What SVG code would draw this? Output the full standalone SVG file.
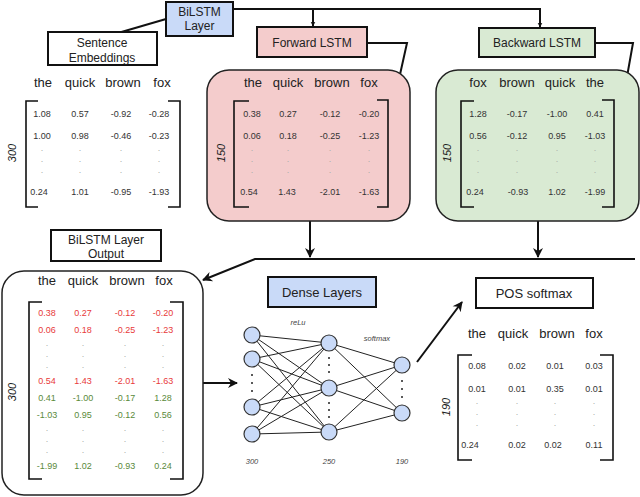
<svg xmlns="http://www.w3.org/2000/svg" width="640" height="497" viewBox="0 0 640 497">
<defs>
<marker id="ah" viewBox="0 0 10 10" refX="9" refY="5" markerWidth="7" markerHeight="7" orient="auto-start-reverse" markerUnits="userSpaceOnUse">
<path d="M0,0 L10,5 L0,10 L3,5 z" fill="#111"/>
</marker>
<marker id="ahs" viewBox="0 0 10 10" refX="9" refY="5" markerWidth="5" markerHeight="6" orient="auto" markerUnits="userSpaceOnUse">
<path d="M0,0 L10,5 L0,10 L3,5 z" fill="#111"/>
</marker>
<marker id="ahb" viewBox="0 0 10 10" refX="9" refY="5" markerWidth="12" markerHeight="10" orient="auto" markerUnits="userSpaceOnUse">
<path d="M0,0 L10,5 L0,10 L3,5 z" fill="#111"/>
</marker>
</defs>
<style>
text{font-family:"Liberation Sans",Arial,sans-serif;fill:#222}
.lbl{font-size:12px;text-anchor:middle}
.hd{font-size:13px;text-anchor:middle}
.v{font-size:9px;text-anchor:middle;fill:#333}
.dot{font-size:9px;text-anchor:middle;fill:#aaa}
.red{fill:#e83a3a}
.grn{fill:#5a8a3a}
.dim{font-size:11px;font-style:italic;text-anchor:middle}
.sm{font-size:7.5px;font-style:italic;text-anchor:middle;fill:#444}
.box{stroke:#111;stroke-width:2}
.br{fill:none;stroke:#111;stroke-width:1.6}
.con{fill:none;stroke:#111;stroke-width:2}
.edge{stroke:#222;stroke-width:1}
.nd{fill:#c9daf8;stroke:#333;stroke-width:1.2}
.nd2{font-size:9px;text-anchor:middle;fill:#222}
</style>
<rect width="640" height="497" fill="#fff"/>

<g id="connectors">
<line x1="166" y1="19" x2="118" y2="33" class="con"/>
<path d="M233,9 H540 V27" class="con" stroke-width="1.5" marker-end="url(#ahs)"/>
<path d="M313,9 V26" class="con" stroke-width="1.5" marker-end="url(#ahs)"/>
<path d="M367,43 H407 L397,88" class="con" marker-end="url(#ahb)"/>
<path d="M595,43 H633 L625,88" class="con" marker-end="url(#ahb)"/>
<path d="M310,207 V257" class="con" marker-end="url(#ahb)"/>
<path d="M538,207 V257" class="con" marker-end="url(#ahb)"/>
<path d="M635,259 H255 L203,280" class="con" marker-end="url(#ahb)"/>
<path d="M203,383 H237" class="con" marker-end="url(#ahb)"/>
<path d="M417,362 L462,302" class="con" marker-end="url(#ahb)"/>
</g>

<g id="bilstm-layer">
<rect x="166" y="2" width="67" height="34" fill="#c9daf8" class="box"/>
<text x="199.5" y="16" class="lbl">BiLSTM</text>
<text x="199.5" y="30" class="lbl">Layer</text>
</g>

<g id="sentence-embeddings">
<rect x="48" y="32" width="109" height="33" fill="#fff" class="box"/>
<text x="102" y="47" class="lbl">Sentence</text>
<text x="102" y="62" class="lbl">Embeddings</text>
<text x="43" y="87" class="hd">the</text>
<text x="80" y="87" class="hd">quick</text>
<text x="123" y="87" class="hd">brown</text>
<text x="162" y="87" class="hd">fox</text>
<path d="M38,101 H26 V207 H38" class="br"/>
<path d="M168,101 H180 V207 H168" class="br"/>
<text transform="translate(16,153) rotate(-90)" class="dim">300</text>
<text x="42" y="117" class="v">1.08</text><text x="80" y="117" class="v">0.57</text><text x="121" y="117" class="v">-0.92</text><text x="159" y="117" class="v">-0.28</text>
<text x="42" y="139" class="v">1.00</text><text x="80" y="139" class="v">0.98</text><text x="121" y="139" class="v">-0.46</text><text x="159" y="139" class="v">-0.23</text>
<g class="dot">
<text x="42" y="151" class="dot">.</text><text x="80" y="151" class="dot">.</text><text x="121" y="151" class="dot">.</text><text x="159" y="151" class="dot">.</text>
<text x="42" y="162" class="dot">.</text><text x="80" y="162" class="dot">.</text><text x="121" y="162" class="dot">.</text><text x="159" y="162" class="dot">.</text>
<text x="42" y="173" class="dot">.</text><text x="80" y="173" class="dot">.</text><text x="121" y="173" class="dot">.</text><text x="159" y="173" class="dot">.</text>
</g>
<text x="39" y="195" class="v">0.24</text><text x="80" y="195" class="v">1.01</text><text x="121" y="195" class="v">-0.95</text><text x="159" y="195" class="v">-1.93</text>
</g>

<g id="forward-lstm">
<rect x="257" y="27" width="110" height="30" fill="#f4cccc" class="box"/>
<text x="312" y="47" class="lbl">Forward LSTM</text>
</g>

<g id="forward-matrix">
<rect x="207" y="70" width="203" height="151" rx="22" fill="#f4cccc" stroke="#222" stroke-width="1.5"/>
<text x="253" y="87" class="hd">the</text>
<text x="288" y="87" class="hd">quick</text>
<text x="332" y="87" class="hd">brown</text>
<text x="369" y="87" class="hd">fox</text>
<path d="M249,101 H234 V207 H249" class="br"/>
<path d="M377,100 H388 V207 H377" class="br"/>
<text transform="translate(225,153) rotate(-90)" class="dim">150</text>
<text x="252" y="117" class="v">0.38</text><text x="288" y="117" class="v">0.27</text><text x="330" y="117" class="v">-0.12</text><text x="369" y="117" class="v">-0.20</text>
<text x="252" y="139" class="v">0.06</text><text x="288" y="139" class="v">0.18</text><text x="330" y="139" class="v">-0.25</text><text x="369" y="139" class="v">-1.23</text>
<text x="252" y="151" class="dot">.</text><text x="288" y="151" class="dot">.</text><text x="330" y="151" class="dot">.</text><text x="369" y="151" class="dot">.</text>
<text x="252" y="162" class="dot">.</text><text x="288" y="162" class="dot">.</text><text x="330" y="162" class="dot">.</text><text x="369" y="162" class="dot">.</text>
<text x="252" y="173" class="dot">.</text><text x="288" y="173" class="dot">.</text><text x="330" y="173" class="dot">.</text><text x="369" y="173" class="dot">.</text>
<text x="249" y="195" class="v">0.54</text><text x="287" y="195" class="v">1.43</text><text x="330" y="195" class="v">-2.01</text><text x="369" y="195" class="v">-1.63</text>
</g>

<g id="backward-lstm">
<rect x="479" y="28" width="116" height="29" fill="#d9ead3" class="box"/>
<text x="537" y="47" class="lbl">Backward LSTM</text>
</g>

<g id="backward-matrix">
<rect x="436" y="70" width="203" height="151" rx="22" fill="#d9ead3" stroke="#222" stroke-width="1.5"/>
<text x="478" y="87" class="hd">fox</text>
<text x="517" y="87" class="hd">brown</text>
<text x="560" y="87" class="hd">quick</text>
<text x="595" y="87" class="hd">the</text>
<path d="M474,101 H461 V207 H474" class="br"/>
<path d="M602,100 H614 V207 H602" class="br"/>
<text transform="translate(451,153) rotate(-90)" class="dim">150</text>
<text x="478" y="117" class="v">1.28</text><text x="517" y="117" class="v">-0.17</text><text x="557" y="117" class="v">-1.00</text><text x="595" y="117" class="v">0.41</text>
<text x="478" y="139" class="v">0.56</text><text x="517" y="139" class="v">-0.12</text><text x="557" y="139" class="v">0.95</text><text x="595" y="139" class="v">-1.03</text>
<text x="478" y="151" class="dot">.</text><text x="517" y="151" class="dot">.</text><text x="557" y="151" class="dot">.</text><text x="595" y="151" class="dot">.</text>
<text x="478" y="162" class="dot">.</text><text x="517" y="162" class="dot">.</text><text x="557" y="162" class="dot">.</text><text x="595" y="162" class="dot">.</text>
<text x="478" y="173" class="dot">.</text><text x="517" y="173" class="dot">.</text><text x="557" y="173" class="dot">.</text><text x="595" y="173" class="dot">.</text>
<text x="475" y="195" class="v">0.24</text><text x="518" y="195" class="v">-0.93</text><text x="557" y="195" class="v">1.02</text><text x="595" y="195" class="v">-1.99</text>
</g>

<g id="bilstm-output-label">
<rect x="51" y="230" width="110" height="31" fill="#fff" class="box"/>
<text x="106" y="244" class="lbl">BiLSTM Layer</text>
<text x="106" y="258" class="lbl">Output</text>
</g>

<g id="bilstm-output">
<rect x="2" y="271" width="201" height="224" rx="22" fill="#fff" stroke="#222" stroke-width="1.5"/>
<text x="47" y="285" class="hd">the</text>
<text x="83" y="285" class="hd">quick</text>
<text x="127" y="285" class="hd">brown</text>
<text x="164" y="285" class="hd">fox</text>
<path d="M42,302 H29 V479 H42" class="br"/>
<path d="M170,302 H183 V479 H170" class="br"/>
<text transform="translate(16,392) rotate(-90)" class="dim">300</text>
<g>
<text x="47" y="316" class="v red">0.38</text><text x="83" y="316" class="v red">0.27</text><text x="125" y="316" class="v red">-0.12</text><text x="163" y="316" class="v red">-0.20</text>
<text x="47" y="333" class="v red">0.06</text><text x="83" y="333" class="v red">0.18</text><text x="125" y="333" class="v red">-0.25</text><text x="163" y="333" class="v red">-1.23</text>
<text x="47" y="346" class="dot">.</text><text x="83" y="346" class="dot">.</text><text x="125" y="346" class="dot">.</text><text x="163" y="346" class="dot">.</text>
<text x="47" y="357" class="dot">.</text><text x="83" y="357" class="dot">.</text><text x="125" y="357" class="dot">.</text><text x="163" y="357" class="dot">.</text>
<text x="47" y="368" class="dot">.</text><text x="83" y="368" class="dot">.</text><text x="125" y="368" class="dot">.</text><text x="163" y="368" class="dot">.</text>
<text x="47" y="384" class="v red">0.54</text><text x="83" y="384" class="v red">1.43</text><text x="125" y="384" class="v red">-2.01</text><text x="163" y="384" class="v red">-1.63</text>
<text x="47" y="401" class="v grn">0.41</text><text x="83" y="401" class="v grn">-1.00</text><text x="125" y="401" class="v grn">-0.17</text><text x="163" y="401" class="v grn">1.28</text>
<text x="47" y="418" class="v grn">-1.03</text><text x="83" y="418" class="v grn">0.95</text><text x="125" y="418" class="v grn">-0.12</text><text x="163" y="418" class="v grn">0.56</text>
<text x="47" y="431" class="dot">.</text><text x="83" y="431" class="dot">.</text><text x="125" y="431" class="dot">.</text><text x="163" y="431" class="dot">.</text>
<text x="47" y="442" class="dot">.</text><text x="83" y="442" class="dot">.</text><text x="125" y="442" class="dot">.</text><text x="163" y="442" class="dot">.</text>
<text x="47" y="453" class="dot">.</text><text x="83" y="453" class="dot">.</text><text x="125" y="453" class="dot">.</text><text x="163" y="453" class="dot">.</text>
<text x="47" y="469" class="v grn">-1.99</text><text x="83" y="469" class="v grn">1.02</text><text x="125" y="469" class="v grn">-0.93</text><text x="163" y="469" class="v grn">0.24</text>
</g>
</g>

<g id="dense-layers">
<rect x="268" y="277" width="108" height="30" fill="#c9daf8" class="box"/>
<text x="322" y="297" class="hd">Dense Layers</text>
<g class="edge">
<line x1="252" y1="335" x2="329" y2="343"/><line x1="252" y1="335" x2="329" y2="388"/><line x1="252" y1="335" x2="329" y2="432"/>
<line x1="252" y1="359" x2="329" y2="343"/><line x1="252" y1="359" x2="329" y2="388"/><line x1="252" y1="359" x2="329" y2="432"/>
<line x1="252" y1="407" x2="329" y2="343"/><line x1="252" y1="407" x2="329" y2="388"/><line x1="252" y1="407" x2="329" y2="432"/>
<line x1="252" y1="434" x2="329" y2="343"/><line x1="252" y1="434" x2="329" y2="388"/><line x1="252" y1="434" x2="329" y2="432"/>
<line x1="329" y1="343" x2="402" y2="365"/><line x1="329" y1="343" x2="402" y2="413"/>
<line x1="329" y1="388" x2="402" y2="365"/><line x1="329" y1="388" x2="402" y2="413"/>
<line x1="329" y1="432" x2="402" y2="365"/><line x1="329" y1="432" x2="402" y2="413"/>
</g>
<circle cx="252" cy="335" r="8" class="nd"/><circle cx="252" cy="359" r="8" class="nd"/>
<circle cx="252" cy="407" r="8" class="nd"/><circle cx="252" cy="434" r="8" class="nd"/>
<circle cx="329" cy="343" r="8" class="nd"/><circle cx="329" cy="388" r="8" class="nd"/><circle cx="329" cy="432" r="8" class="nd"/>
<circle cx="402" cy="365" r="8" class="nd"/><circle cx="402" cy="413" r="8" class="nd"/>
<g fill="#222">
<circle cx="252" cy="375" r="1"/><circle cx="252" cy="383" r="1"/><circle cx="252" cy="391" r="1"/>
<circle cx="329" cy="358" r="1"/><circle cx="329" cy="365" r="1"/><circle cx="329" cy="372" r="1"/>
<circle cx="329" cy="403" r="1"/><circle cx="329" cy="410" r="1"/><circle cx="329" cy="417" r="1"/>
<circle cx="402" cy="381" r="1"/><circle cx="402" cy="389" r="1"/><circle cx="402" cy="397" r="1"/>
</g>
<text x="298" y="325" class="sm">reLu</text>
<text x="377" y="341" class="sm">softmax</text>
<text x="252" y="464" class="sm">300</text>
<text x="329" y="464" class="sm">250</text>
<text x="402" y="464" class="sm">190</text>
</g>

<g id="pos-softmax">
<rect x="476" y="278" width="117" height="30" fill="#fff" class="box"/>
<text x="534" y="298" class="hd">POS softmax</text>
<text x="477" y="338" class="hd">the</text>
<text x="513" y="338" class="hd">quick</text>
<text x="557" y="338" class="hd">brown</text>
<text x="594" y="338" class="hd">fox</text>
<path d="M472,355 H458 V460 H472" class="br"/>
<path d="M600,355 H613 V460 H600" class="br"/>
<text transform="translate(450,407) rotate(-90)" class="dim">190</text>
<text x="477" y="369" class="v">0.08</text><text x="517" y="369" class="v">0.02</text><text x="555" y="369" class="v">0.01</text><text x="594" y="369" class="v">0.03</text>
<text x="477" y="392" class="v">0.01</text><text x="517" y="392" class="v">0.01</text><text x="555" y="392" class="v">0.35</text><text x="594" y="392" class="v">0.01</text>
<text x="477" y="404" class="dot">.</text><text x="517" y="404" class="dot">.</text><text x="555" y="404" class="dot">.</text><text x="594" y="404" class="dot">.</text>
<text x="477" y="415" class="dot">.</text><text x="517" y="415" class="dot">.</text><text x="555" y="415" class="dot">.</text><text x="594" y="415" class="dot">.</text>
<text x="477" y="426" class="dot">.</text><text x="517" y="426" class="dot">.</text><text x="555" y="426" class="dot">.</text><text x="594" y="426" class="dot">.</text>
<text x="470" y="448" class="v">0.24</text><text x="517" y="448" class="v">0.02</text><text x="553" y="448" class="v">0.02</text><text x="594" y="448" class="v">0.11</text>
</g>
</svg>
